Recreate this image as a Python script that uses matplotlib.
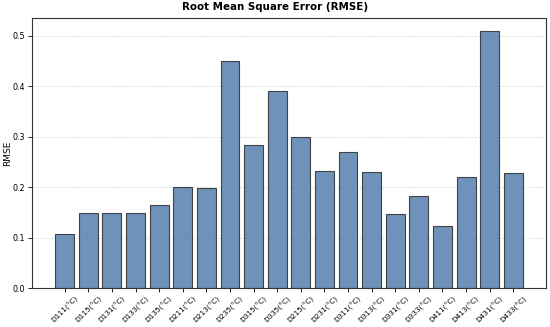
import numpy as np
import matplotlib
matplotlib.use('Agg')
import matplotlib.pyplot as plt

labels = ['D111', 'D115', 'D131', 'D133', 'D135', 'D211', 'D213', 'D235', 'D315', 'D335',
          'D215', 'D231', 'D311', 'D313', 'D331', 'D333', 'D411', 'D413', 'D431', 'D433']
rmse = [0.107, 0.148, 0.149, 0.149, 0.165, 0.200, 0.198, 0.451, 0.284, 0.390,
        0.300, 0.233, 0.269, 0.230, 0.147, 0.183, 0.123, 0.220, 0.510, 0.229]

tick_labels = [l + '(°C)' for l in labels]

fig, ax = plt.subplots(figsize=(5.5, 3.27), dpi=100)
x = np.arange(len(labels))
ax.bar(x, rmse, color='#4a77a8', alpha=0.8, edgecolor='#222222', linewidth=0.8, width=0.8)
ax.set_xticks(x)
ax.set_xticklabels(tick_labels, rotation=45, ha='center', fontsize=5.3)
ax.tick_params(axis='y', labelsize=5.8, length=3, width=0.6, pad=2)
ax.tick_params(axis='x', length=3, width=0.6, pad=2)
ax.set_ylabel('RMSE', fontsize=6.5)
ax.yaxis.set_label_coords(-0.038, 0.5)
fig.suptitle('Root Mean Square Error (RMSE)', fontsize=7.4, fontweight='bold', x=0.5, y=0.995)
ax.yaxis.grid(True, linestyle='--', alpha=0.4, linewidth=0.6)
ax.set_axisbelow(True)
for s in ax.spines.values():
    s.set_linewidth(0.8)
    s.set_color('#333333')

plt.subplots_adjust(left=0.058, right=0.993, top=0.945, bottom=0.119)
plt.savefig('out.png', dpi=100)
